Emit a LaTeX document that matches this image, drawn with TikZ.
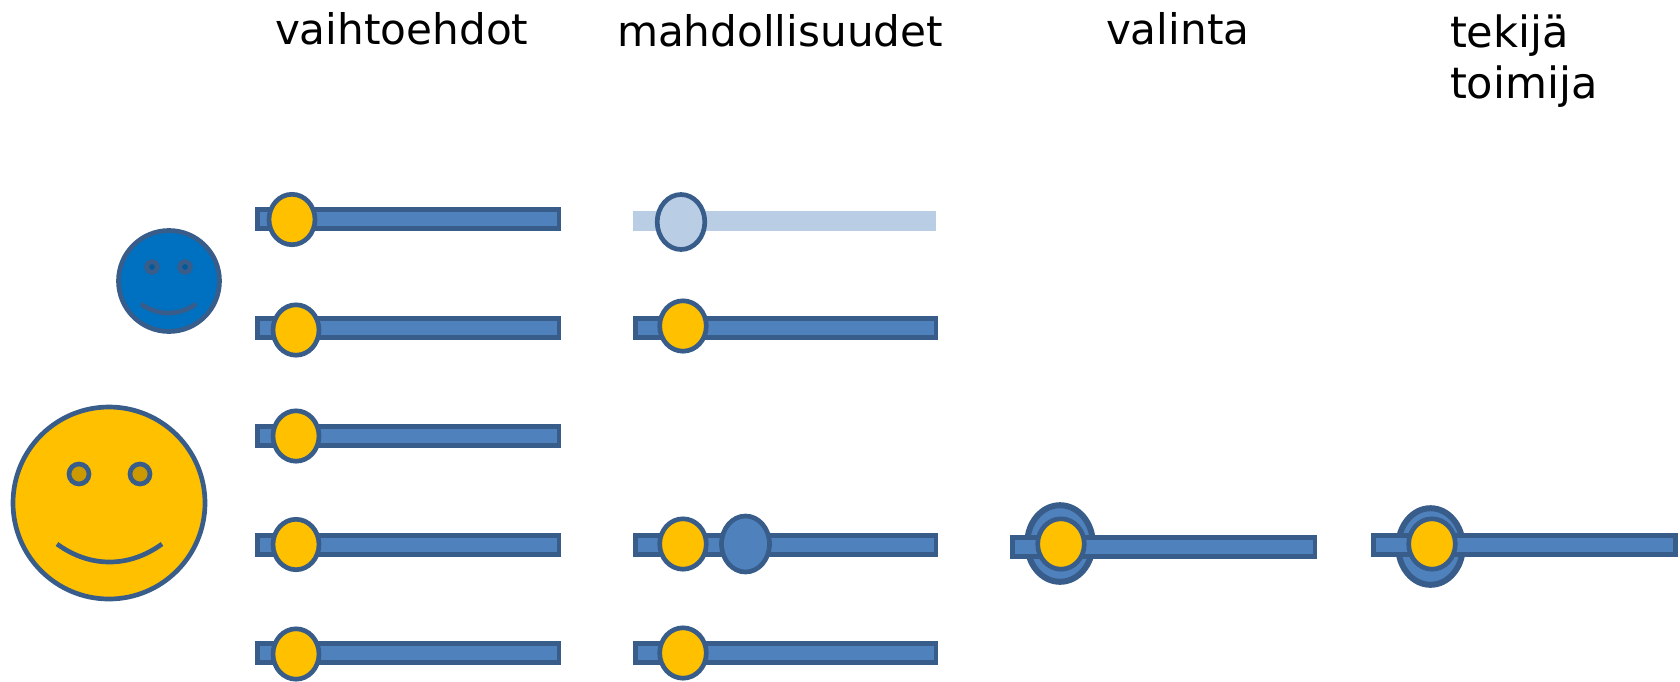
\documentclass[tikz,border=0pt]{standalone}
\usepackage{fontspec}
\setmainfont{DejaVu Sans}
\definecolor{lineblue}{HTML}{385D8A}
\definecolor{fillblue}{HTML}{4F81BD}
\definecolor{paleblue}{HTML}{B9CDE5}
\definecolor{gold}{HTML}{FFC000}
\definecolor{darkgold}{HTML}{CC9A00}
\definecolor{faceblue}{HTML}{0070C0}
\definecolor{eyeblue}{HTML}{005A9A}
\definecolor{olivefringe}{HTML}{7F9A3A}
\definecolor{brownfringe}{HTML}{A07A3A}
\tikzset{
  x=0.0375cm,y=-0.0375cm,
  barbox/.style={draw=lineblue,line width=4.6pt,fill=fillblue},
  palebar/.style={fill=paleblue},
  knob/.style={draw=lineblue,line width=5pt,fill=gold},
  blueknob/.style={draw=lineblue,line width=5pt,fill=fillblue},
  ringknob/.style={draw=lineblue,line width=6.4pt,fill=fillblue},
  paleknob/.style={draw=lineblue,line width=5pt,fill=paleblue},
  smileline/.style={draw=lineblue,line width=5pt},
  head/.style={font=\fontsize{45}{45}\selectfont,anchor=base west,inner sep=0pt,outer sep=0pt},
}
\begin{document}
\begin{tikzpicture}
\useasboundingbox (0,0) rectangle (1680,681);
% headings
\node[head] (h1) at (275,44) {vaihtoehdot};
\node[head] (h2) at (617,46) {mahdollisuudet};
\node[head] (h3) at (1106,44) {valinta};
\node[head,font=\fontsize{46}{46}\selectfont] (h4a) at (1450,47) {tekijä};
\node[head,font=\fontsize{46}{46}\selectfont] (h4b) at (1450,98) {toimija};
% faces
\draw[knob] (109,503) circle [radius=96];
\draw[knob,fill=darkgold] (79,474) circle [radius=10];
\draw[knob,fill=darkgold] (140,474) circle [radius=10];
\draw[smileline] (57,544) .. controls (90,568) and (129,568) .. (162,544);
\draw[knob,fill=faceblue] (169,281) circle [radius=50.5];
\draw[knob,fill=eyeblue] (152,267) circle [radius=5.5];
\draw[knob,fill=eyeblue] (185,267) circle [radius=5.5];
\draw[smileline] (141,304) .. controls (158,316) and (179,316) .. (196,304);
% column 1
\foreach \yy/\ky/\kx in {219/219.5/292,328/330/296,436/436/296,545/544.5/296,653/654/296}{
  \draw[barbox] (257.5,\yy-9.5) rectangle (559,\yy+9.5);
  \draw[knob] (\kx,\ky) ellipse [x radius=23,y radius=25.2];
}
% column 2
\fill[palebar] (633,211) rectangle (936,231);
\draw[paleknob] (681,222) ellipse [x radius=23.8,y radius=27.5];
\draw[brownfringe,line width=1pt] (633,316) -- (938,316);
\fill[olivefringe] (633,532.6) rectangle (938,557.4);
\foreach \yy/\ky in {328/326,545/544,653/653}{
  \draw[barbox] (635.5,\yy-9.5) rectangle (936,\yy+9.5);
  \draw[knob] (683,\ky) ellipse [x radius=23.3,y radius=25.2];
}
\draw[blueknob] (745.5,544) ellipse [x radius=24,y radius=28];
% column 3
\draw[ringknob] (1060,543.5) ellipse [x radius=32.8,y radius=38.3];
\draw[barbox] (1012.5,537.5) rectangle (1315,556.5);
\draw[knob] (1061,544) ellipse [x radius=23.3,y radius=25.2];
% column 4
\draw[ringknob] (1430.5,546.5) ellipse [x radius=32.3,y radius=38.3];
\draw[barbox] (1373.5,535.5) rectangle (1675.5,554.5);
\draw[knob] (1432,544) ellipse [x radius=23.3,y radius=25.2];
\end{tikzpicture}
\end{document}
